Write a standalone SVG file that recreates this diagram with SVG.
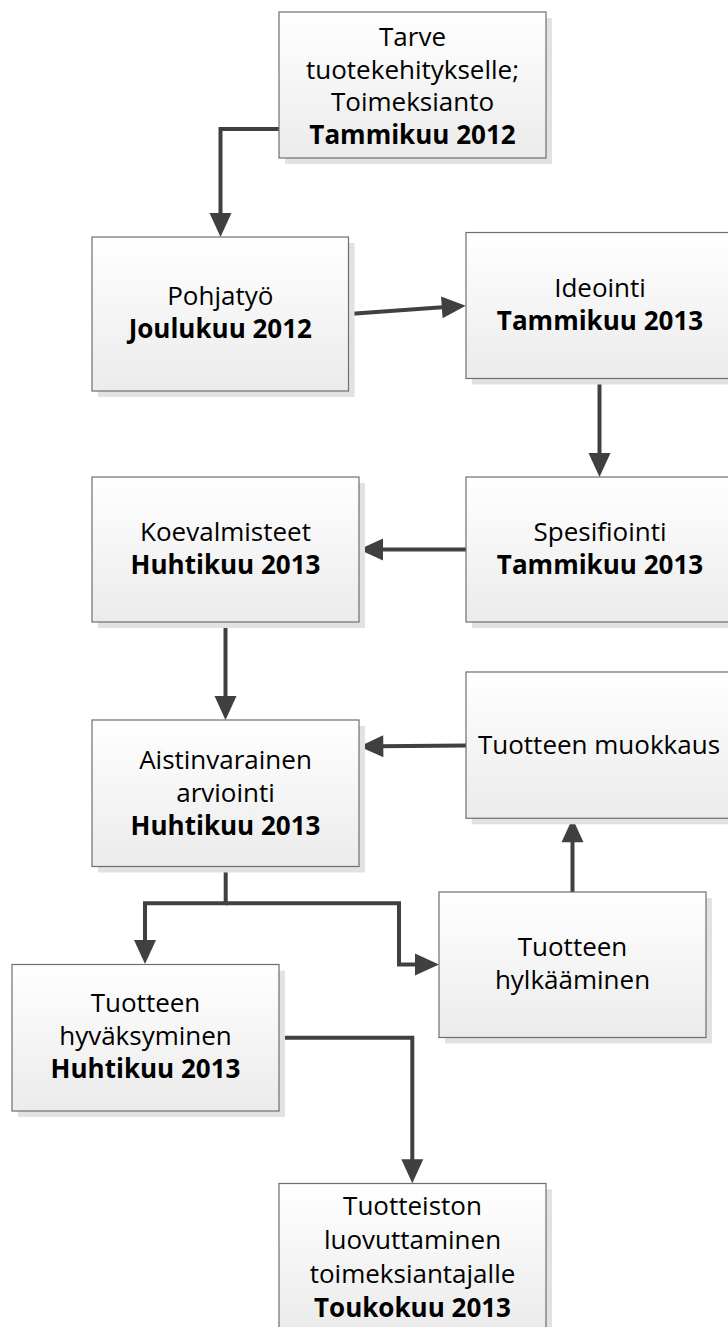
<svg xmlns="http://www.w3.org/2000/svg" width="728" height="1327" viewBox="0 0 728 1327">
<defs>
<linearGradient id="fillg" x1="0" y1="0" x2="0" y2="1">
<stop offset="0" stop-color="#ffffff"/>
<stop offset="1" stop-color="#ebebeb"/>
</linearGradient>
<marker id="ah" markerUnits="userSpaceOnUse" markerWidth="24" markerHeight="22" refX="4" refY="11" orient="auto" overflow="visible">
<path d="M0,0 L24,11 L0,22 Z" fill="#404040"/>
</marker>
<style>
.shadow{fill:#e2e2e2;}
.box{fill:url(#fillg);stroke:#6e6e6e;stroke-width:1.2;}
.t{font-family:"Open Sans","Noto Sans","Liberation Sans",sans-serif;font-size:26px;fill:#000;text-anchor:middle;}
.b{font-weight:bold;}
.c{fill:none;stroke:#404040;stroke-width:4;stroke-linejoin:miter;marker-end:url(#ah);}
</style>
</defs>
<rect width="728" height="1327" fill="#ffffff"/>
<g id="connectors">
<path class="c" d="M279,129 H220.5 V217"/>
<path class="c" d="M348.5,314 L445.8,307.1"/>
<path class="c" d="M599.5,378.5 V457"/>
<path class="c" d="M466,549.5 H379"/>
<path class="c" d="M225.5,622 V700"/>
<path class="c" d="M466,745.5 L379.3,746.3"/>
<path class="c" d="M572.5,892 V838.3"/>
<path class="c" d="M225.7,866.5 V903.3 H145 V944"/>
<path class="c" d="M225.7,903.3 H399 V964.5 H419"/>
<path class="c" d="M279,1037.7 H412.3 V1163.3"/>
</g>
<g id="n1">
<rect class="shadow" x="285" y="18" width="267" height="146"/>
<rect class="box" x="279" y="12" width="267" height="146"/>
<text class="t" x="412.5" y="45.5">Tarve</text>
<text class="t" x="412.5" y="78.5">tuotekehitykselle;</text>
<text class="t" x="412.5" y="111">Toimeksianto</text>
<text class="t b" x="412.5" y="143.5">Tammikuu 2012</text>
</g>
<g id="n2">
<rect class="shadow" x="98" y="243" width="256.5" height="154"/>
<rect class="box" x="92" y="237" width="256.5" height="154"/>
<text class="t" x="220.3" y="305">Pohjatyö</text>
<text class="t b" x="220.3" y="338">Joulukuu 2012</text>
</g>
<g id="n3">
<rect class="shadow" x="472" y="238.5" width="268" height="146"/>
<rect class="box" x="466" y="232.5" width="268" height="146"/>
<text class="t" x="600" y="297">Ideointi</text>
<text class="t b" x="600" y="330">Tammikuu 2013</text>
</g>
<g id="n4">
<rect class="shadow" x="98" y="483" width="267" height="145"/>
<rect class="box" x="92" y="477" width="267" height="145"/>
<text class="t" x="225.5" y="541">Koevalmisteet</text>
<text class="t b" x="225.5" y="574">Huhtikuu 2013</text>
</g>
<g id="n5">
<rect class="shadow" x="472" y="483" width="268" height="145"/>
<rect class="box" x="466" y="477" width="268" height="145"/>
<text class="t" x="600" y="541">Spesifiointi</text>
<text class="t b" x="600" y="574">Tammikuu 2013</text>
</g>
<g id="n6">
<rect class="shadow" x="98" y="726" width="267" height="146.5"/>
<rect class="box" x="92" y="720" width="267" height="146.5"/>
<text class="t" x="225.5" y="768.5">Aistinvarainen</text>
<text class="t" x="225.5" y="801.5">arviointi</text>
<text class="t b" x="225.5" y="834.5">Huhtikuu 2013</text>
</g>
<g id="n7">
<rect class="shadow" x="472" y="678" width="268" height="146.3"/>
<rect class="box" x="466" y="672" width="268" height="146.3"/>
<text class="t" x="599" y="753.5">Tuotteen muokkaus</text>
</g>
<g id="n8">
<rect class="shadow" x="445" y="898" width="267" height="145.5"/>
<rect class="box" x="439" y="892" width="267" height="145.5"/>
<text class="t" x="572.5" y="956">Tuotteen</text>
<text class="t" x="572.5" y="989">hylkääminen</text>
</g>
<g id="n9">
<rect class="shadow" x="18" y="970.5" width="267" height="146.5"/>
<rect class="box" x="12" y="964.5" width="267" height="146.5"/>
<text class="t" x="145.5" y="1012">Tuotteen</text>
<text class="t" x="145.5" y="1045">hyväksyminen</text>
<text class="t b" x="145.5" y="1078">Huhtikuu 2013</text>
</g>
<g id="n10">
<rect class="shadow" x="285" y="1189.5" width="267" height="146"/>
<rect class="box" x="279" y="1183.5" width="267" height="146"/>
<text class="t" x="412.5" y="1215">Tuotteiston</text>
<text class="t" x="412.5" y="1249">luovuttaminen</text>
<text class="t" x="412.5" y="1283">toimeksiantajalle</text>
<text class="t b" x="412.5" y="1317">Toukokuu 2013</text>
</g>
</svg>
